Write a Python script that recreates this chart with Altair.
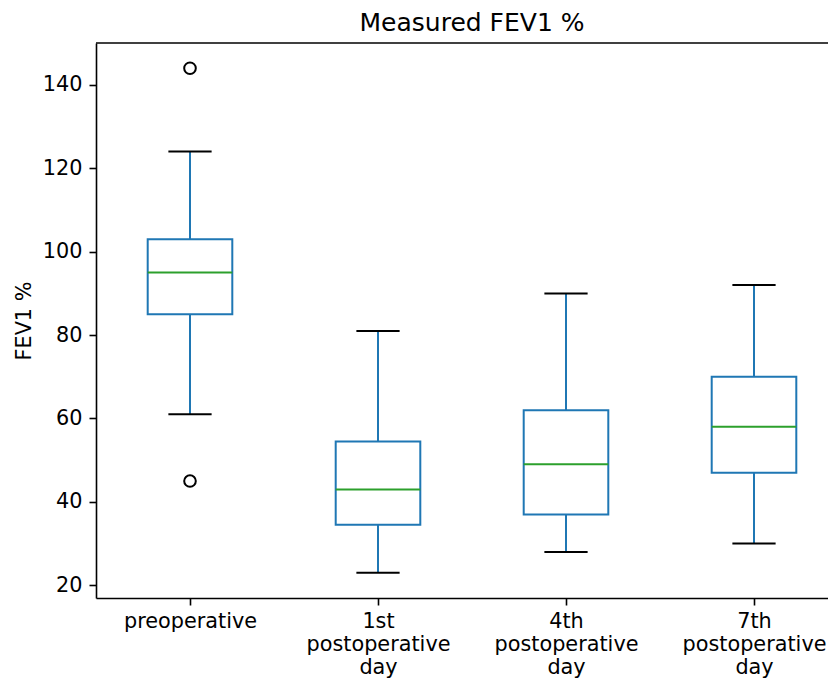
import json
import altair as alt
import pandas as pd

# ---- data ----
categories = ["preoperative", "1st postoperative day", "4th postoperative day", "7th postoperative day"]
whisker_low = [61, 23, 28, 30]
q1 = [85, 34.5, 37, 47]
median = [95, 43, 49, 58]
q3 = [103, 54.5, 62, 70]
whisker_high = [124, 81, 90, 92]
outlier_cat = ["preoperative", "preoperative"]
outlier_val = [144, 45]
y_ticks = [20, 40, 60, 80, 100, 120, 140]

n = len(categories)
pos_of = {c: i + 1 for i, c in enumerate(categories)}
stats = pd.DataFrame({
    "category": categories,
    "pos": [pos_of[c] for c in categories],
    "low": whisker_low, "q1": q1, "median": median, "q3": q3, "high": whisker_high,
})
fliers = pd.DataFrame({"category": outlier_cat, "value": outlier_val})
fliers["pos"] = fliers["category"].map(pos_of)

all_vals = whisker_low + whisker_high + outlier_val
lo, hi = min(all_vals), max(all_vals)
pad = 0.05 * (hi - lo)
ydom = [lo - pad, hi + pad]

# ---- layout / style ----
W, H = 732, 555
UNIT = 188.0
xdom = [0.5, 0.5 + W / UNIT]
BLUE = "#1f77b4"
GREEN = "#2ca02c"
LW = 2.0
FONT = "DejaVu Sans"
FS = 20.8

label_expr = "split(" + json.dumps(categories) + "[datum.value - 1], ' ')"

xscale = alt.Scale(domain=xdom, nice=False, zero=False)
yscale = alt.Scale(domain=ydom, nice=False, zero=False)
xaxis = alt.Axis(values=list(range(1, n + 1)), labelExpr=label_expr, title=None, grid=False,
                 tickSize=7, tickWidth=1.6, tickColor="black", domainColor="black", domainWidth=1.6,
                 labelFont=FONT, labelFontSize=FS, labelColor="black", labelLineHeight=23,
                 labelPadding=6, labelAngle=0, labelOverlap=False, labelFlush=False)
yaxis = alt.Axis(values=y_ticks, title="FEV1 %", grid=False, tickSize=7, tickWidth=1.6,
                 tickColor="black", domainColor="black", domainWidth=1.6,
                 labelFont=FONT, labelFontSize=FS, labelColor="black", labelPadding=7,
                 titleFont=FONT, titleFontSize=FS, titleFontWeight="normal", titleColor="black",
                 titlePadding=8, labelFlush=False)


def X(field):
    return alt.X(field, type="quantitative", scale=xscale, axis=xaxis)


def Y(field):
    return alt.Y(field, type="quantitative", scale=yscale, axis=yaxis)


base = alt.Chart(stats).transform_calculate(
    b0="datum.pos - 0.225", b1="datum.pos + 0.225",
    c0="datum.pos - 0.115", c1="datum.pos + 0.115",
)

whisk_lo = base.mark_rule(color=BLUE, strokeWidth=LW).encode(x=X("pos"), y=Y("low"), y2="q1:Q")
whisk_hi = base.mark_rule(color=BLUE, strokeWidth=LW).encode(x=X("pos"), y=Y("q3"), y2="high:Q")
box = base.mark_rect(filled=False, stroke=BLUE, strokeWidth=LW).encode(
    x=X("b0"), x2="b1:Q", y=Y("q1"), y2="q3:Q")
med = base.mark_rule(color=GREEN, strokeWidth=LW).encode(x=X("b0"), x2="b1:Q", y=Y("median"))
cap_lo = base.mark_rule(color="black", strokeWidth=LW).encode(x=X("c0"), x2="c1:Q", y=Y("low"))
cap_hi = base.mark_rule(color="black", strokeWidth=LW).encode(x=X("c0"), x2="c1:Q", y=Y("high"))
pts = alt.Chart(fliers).mark_point(shape="circle", filled=False, color="black",
                                    strokeWidth=LW, size=135, opacity=1).encode(x=X("pos"), y=Y("value"))
top_spine = alt.Chart(alt.Data(values=[{}])).mark_rule(color="black", strokeWidth=1.6).encode(
    x=alt.value(0), x2=alt.value(W), y=alt.value(0))

chart = alt.layer(whisk_lo, whisk_hi, box, med, cap_lo, cap_hi, pts, top_spine).properties(
    width=W, height=H,
    title=alt.TitleParams("Measured FEV1 %", font=FONT, fontSize=25, fontWeight="normal",
                          color="black", anchor="middle", dx=10, offset=6),
    autosize=alt.AutoSizeParams(type="none"),
    padding={"left": 88, "top": 35, "right": 0, "bottom": 80},
).configure_view(stroke=None)

chart.save("out.html", embed_options={"renderer": "svg", "actions": False})
